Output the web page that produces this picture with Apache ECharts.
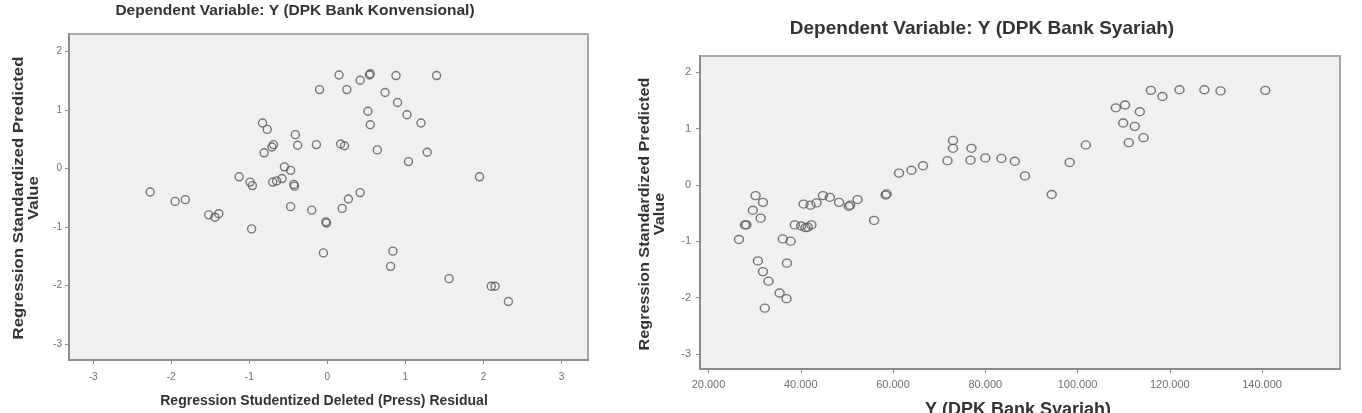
<!DOCTYPE html>
<html>
	<head>
		<meta charset="utf-8">
		<title>Scatterplot DPK Bank Konvensional / Syariah</title>
		<style type="text/css">
			html,
			body {
				margin: 0;
				padding: 0;
				background: #fff;
			}

			#chart {
				width: 1362px;
				height: 413px;
			}
		</style>
	</head>
	<body>
		<div id="chart"></div>

		<script src="https://cdn.jsdelivr.net/npm/echarts@6/dist/echarts.min.js"></script>
		<script>
			// 左图：Bank Konvensional
			var konvResidual = [-2.27, -1.95, -1.82, -1.52, -1.44, -1.39, -1.13, -0.99, -0.96, -0.97,
				-0.83, -0.77, -0.81, -0.71, -0.69, -0.70, -0.65, -0.58, -0.55, -0.47,
				-0.43, -0.42, -0.47, -0.41, -0.38, -0.14, -0.20, -0.10, -0.02, -0.01,
				-0.05, 0.15, 0.25, 0.17, 0.22, 0.19, 0.27, 0.42, 0.42, 0.54,
				0.55, 0.52, 0.55, 0.64, 0.74, 0.88, 0.90, 1.02, 1.04, 1.20,
				1.28, 1.40, 0.84, 0.81, 1.56, 1.95, 2.10, 2.15, 2.32];
			var konvPredicted = [-0.40, -0.56, -0.53, -0.79, -0.83, -0.77, -0.14, -0.23, -0.29, -1.03,
				0.78, 0.67, 0.27, 0.37, 0.41, -0.23, -0.21, -0.17, 0.03, -0.03,
				-0.27, -0.30, -0.65, 0.58, 0.40, 0.41, -0.71, 1.35, -0.91, -0.93,
				-1.44, 1.60, 1.35, 0.42, 0.39, -0.68, -0.52, -0.41, 1.51, 1.60,
				1.62, 0.98, 0.75, 0.32, 1.30, 1.59, 1.13, 0.92, 0.12, 0.78,
				0.28, 1.59, -1.41, -1.67, -1.88, -0.14, -2.01, -2.01, -2.27];

			// 右图：Bank Syariah
			var syariahDpk = [26600, 27900, 28200, 30200, 31800, 29600, 31300, 30700, 31800, 33000,
				32200, 35400, 36900, 37000, 36100, 37800, 38700, 40100, 41000, 41500,
				42300, 40600, 42100, 43400, 44800, 46300, 48300, 50400, 50700, 52300,
				55900, 58400, 58600, 61300, 64000, 66500, 71800, 73000, 73000, 77000,
				76800, 80000, 83500, 86400, 88600, 94400, 98300, 101800, 108300, 110300,
				113500, 109900, 112400, 111100, 114300, 115900, 118400, 122100, 127500, 131000,
				140700];
			var syariahPredicted = [-0.97, -0.71, -0.71, -0.19, -0.31, -0.45, -0.59, -1.35, -1.54, -1.71,
				-2.19, -1.92, -2.02, -1.39, -0.96, -1.00, -0.71, -0.73, -0.76, -0.75,
				-0.71, -0.34, -0.36, -0.32, -0.19, -0.22, -0.31, -0.38, -0.36, -0.26,
				-0.63, -0.18, -0.16, 0.21, 0.26, 0.34, 0.43, 0.79, 0.65, 0.65,
				0.44, 0.48, 0.47, 0.42, 0.16, -0.17, 0.40, 0.71, 1.37, 1.42,
				1.30, 1.10, 1.04, 0.75, 0.84, 1.68, 1.57, 1.69, 1.69, 1.67,
				1.68];

			// 刻度
			var residualTicks = [-3, -2, -1, 0, 1, 2, 3];
			var predictedTicks = [-3, -2, -1, 0, 1, 2];
			var dpkTicks = [20000, 40000, 60000, 80000, 100000, 120000, 140000];

			function pairs(xs, ys) {
				return xs.map(function(x, i) {
					return [x, ys[i]];
				});
			}

			var fontName = "'Liberation Sans', Arial, sans-serif";

			function axis(gridIndex, min, max, ticks, labelSize, margin, formatter) {
				return {
					type: 'value',
					gridIndex: gridIndex,
					min: min,
					max: max,
					axisLine: {
						show: true,
						onZero: false,
						lineStyle: {
							color: '#8c8c8c',
							width: 2
						}
					},
					axisTick: {
						show: true,
						length: 4,
						customValues: ticks,
						lineStyle: {
							color: '#8c8c8c'
						}
					},
					axisLabel: {
						customValues: ticks,
						color: '#707070',
						fontSize: labelSize,
						fontFamily: fontName,
						margin: margin,
						formatter: formatter
					},
					splitLine: {
						show: false
					}
				};
			}

			var gridStyle = {
				show: true,
				backgroundColor: '#f0f0f0',
				borderColor: '#a8a8a8',
				borderWidth: 2,
				outerBoundsMode: 'none',
				containLabel: false
			};

			var myChart = echarts.init(document.getElementById('chart'));

			var option = {
				animation: false,
				grid: [
					Object.assign({ left: 69, top: 34, width: 519, height: 326 }, gridStyle),
					Object.assign({ left: 700, top: 56, width: 640, height: 313 }, gridStyle)
				],
				xAxis: [
					axis(0, -3.31, 3.34, residualTicks, 10, 12),
					axis(1, 18150, 156900, dpkTicks, 11, 10, function(v) {
						return (v / 1000) + '.000';
					})
				],
				yAxis: [
					axis(0, -3.27, 2.3, predictedTicks, 10, 7),
					axis(1, -3.27, 2.29, predictedTicks, 11, 9)
				],
				series: [{
					type: 'scatter',
					xAxisIndex: 0,
					yAxisIndex: 0,
					symbol: 'circle',
					symbolSize: 8,
					itemStyle: {
						color: 'rgba(0,0,0,0)',
						borderColor: '#585858',
						borderWidth: 1.4
					},
					data: pairs(konvResidual, konvPredicted)
				}, {
					type: 'scatter',
					xAxisIndex: 1,
					yAxisIndex: 1,
					symbol: 'circle',
					symbolSize: [9, 8],
					itemStyle: {
						color: 'rgba(0,0,0,0)',
						borderColor: '#585858',
						borderWidth: 1.4
					},
					data: pairs(syariahDpk, syariahPredicted)
				}],
				// 标题和轴名
				graphic: [{
					type: 'text',
					x: 295,
					y: 11,
					style: {
						text: 'Dependent Variable: Y (DPK Bank Konvensional)',
						font: 'bold 15.5px ' + fontName,
						fill: '#333',
						align: 'center',
						verticalAlign: 'middle'
					}
				}, {
					type: 'text',
					x: 982,
					y: 29,
					style: {
						text: 'Dependent Variable: Y (DPK Bank Syariah)',
						font: 'bold 19px ' + fontName,
						fill: '#333',
						align: 'center',
						verticalAlign: 'middle'
					}
				}, {
					type: 'text',
					x: 324,
					y: 401,
					style: {
						text: 'Regression Studentized Deleted (Press) Residual',
						font: 'bold 14px ' + fontName,
						fill: '#333',
						align: 'center',
						verticalAlign: 'middle'
					}
				}, {
					type: 'text',
					x: 1018,
					y: 410,
					style: {
						text: 'Y (DPK Bank Syariah)',
						font: 'bold 18px ' + fontName,
						fill: '#333',
						align: 'center',
						verticalAlign: 'middle'
					}
				}, {
					type: 'text',
					x: 26,
					y: 198,
					rotation: Math.PI / 2,
					scaleX: 1.12,
					style: {
						text: 'Regression Standardized Predicted\nValue',
						font: 'bold 15px ' + fontName,
						lineHeight: 15,
						fill: '#333',
						align: 'center',
						verticalAlign: 'middle'
					}
				}, {
					type: 'text',
					x: 652,
					y: 214,
					rotation: Math.PI / 2,
					scaleX: 1.08,
					style: {
						text: 'Regression Standardized Predicted\nValue',
						font: 'bold 15px ' + fontName,
						lineHeight: 15,
						fill: '#333',
						align: 'center',
						verticalAlign: 'middle'
					}
				}]
			};

			myChart.setOption(option);
		</script>
	</body>
</html>
